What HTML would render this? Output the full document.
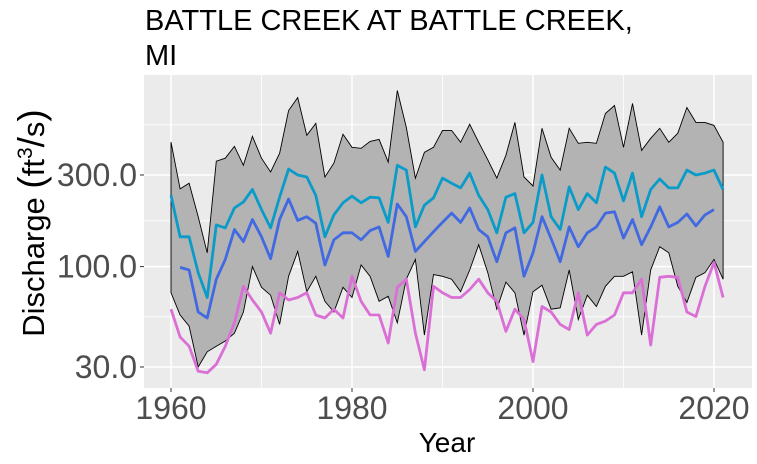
<!DOCTYPE html>
<html><head><meta charset="utf-8"><style>
body{margin:0;background:#fff;}
svg{display:block;font-family:"Liberation Sans",sans-serif;}
</style></head><body>
<svg id="chart" width="757" height="464">
<rect x="0" y="0" width="757" height="464" fill="#fff"/>
<text x="145" y="30" font-size="29" fill="#000">BATTLE CREEK AT BATTLE CREEK,</text>
<text x="145" y="65" font-size="29" fill="#000">MI</text>
<rect x="144" y="75" width="608" height="313" fill="#ebebeb"/>
<g id="grid"></g>
<g id="marks"></g>
<g id="axes"></g>
<text x="447" y="452" font-size="28" text-anchor="middle" fill="#000">Year</text>
<text transform="translate(44,223) rotate(-90)" font-size="31" text-anchor="middle" fill="#000">Discharge <tspan font-size="37">(</tspan>ft<tspan dy="-12" font-size="21">3</tspan><tspan dy="12" font-size="37">/</tspan>s<tspan font-size="37">)</tspan></text>
</svg>
<script>
const years = [];
for (let y = 1960; y <= 2021; y++) years.push(y);
const upper = [445,254,272,182,118,354,367,423,337,477,367,311,389,650,759,483,557,293,346,489,418,413,449,460,350,826,531,289,394,418,512,512,
444,551,444,360,289,380,564,293,263,525,371,318,525,439,444,439,627,690,418,707,403,466,525,444,495,674,564,564,544,444];
const lower = [73,56,49,30,36,38.5,41,45,58,100,78,71,50,89,120,74,89,66,58,78,69,102,89,66,70,51,86,109,44,91,89,86,
74,96,130,93,60,83,73,44,74,80,60,61,96,53,71,62,79,89,89,94,44,96,127,118,79,65,88,93,109,86];
const cyanSeries = [235,143,143,93,69,165,159,202,217,252,198,159,230,322,300,293,235,143,186,215,233,215,230,228,170,337,318,161,209,228,289,272,
257,307,235,198,150,230,240,150,170,300,182,156,260,198,240,215,330,307,220,307,182,252,286,257,257,318,300,307,318,252];
const blueYears = years.slice(1, 61);
const blueSeries = [99,96,58,54,86,109,156,135,176,143,110,176,225,174,182,168,102,138,150,150,138,154,161,113,212,182,120,135,152,170,190,
170,202,156,143,106,150,159,89,118,182,140,106,161,127,150,161,190,193,141,176,130,161,205,161,170,188,163,186,198];
const pinkSeries = [60,43,38.5,28.5,28,31,38.5,51,79,67,58,45,73,67,69,73,56,54,60,54,89,66,56,56,40,78,86,45,29,79,73,69,
69,76,86,73,66,46,60,53,32,62,58,50,47,73,44,50,52,56,73,73,86,39,88,89,88,58,55,79,105,69];
const yTicks = [30, 100, 300];
const yTickLabels = ["30.0", "100.0", "300.0"];
const yMinor = [10, Math.sqrt(30*100), Math.sqrt(100*300), Math.sqrt(300*1000)];
const xTicks = [1960, 1980, 2000, 2020];
const xMinor = [1950, 1970, 1990, 2010];

const NS = "http://www.w3.org/2000/svg";
const P = {l:144, r:752, t:75, b:388};
const xs = y => 171 + (y - 1960) * 9.05;
const ys = v => 175 - Math.log10(v / 300) * 192;
function mk(tag, attrs, parent) {
  const e = document.createElementNS(NS, tag);
  for (const k in attrs) e.setAttribute(k, attrs[k]);
  parent.appendChild(e);
  return e;
}
const grid = document.getElementById('grid');
const marks = document.getElementById('marks');
const axes = document.getElementById('axes');
yMinor.forEach(v => {
  const y = ys(v); if (y < P.t || y > P.b) return;
  const l = mk('line', {x1:P.l, x2:P.r, y1:y, y2:y, stroke:'#fff', 'stroke-width':0.8}, grid);
  
  
});
xMinor.forEach(v => {
  const x = xs(v); if (x < P.l || x > P.r) return;
  const l = mk('line', {x1:x, x2:x, y1:P.t, y2:P.b, stroke:'#fff', 'stroke-width':0.8}, grid);
  
  
});
yTicks.forEach((v, i) => {
  const y = ys(v);
  const l = mk('line', {x1:P.l, x2:P.r, y1:y, y2:y, stroke:'#fff', 'stroke-width':1.5}, grid);
  
  
  const t = mk('line', {x1:P.l-4, x2:P.l, y1:y, y2:y, stroke:'#333', 'stroke-width':1}, axes);
  
  
  const tx = mk('text', {x:P.l-7, y:y+11, 'font-size':32, 'text-anchor':'end', fill:'#4d4d4d'}, axes);
  tx.textContent = yTickLabels[i];
  
  
});
xTicks.forEach(v => {
  const x = xs(v);
  const l = mk('line', {x1:x, x2:x, y1:P.t, y2:P.b, stroke:'#fff', 'stroke-width':1.5}, grid);
  
  
  const t = mk('line', {x1:x, x2:x, y1:P.b, y2:P.b+4, stroke:'#333', 'stroke-width':1}, axes);
  
  
  const tx = mk('text', {x:x, y:419, 'font-size':32, 'text-anchor':'middle', fill:'#4d4d4d'}, axes);
  tx.textContent = v;
  
  
});
let d = years.map((y, i) => (i ? 'L' : 'M') + xs(y).toFixed(1) + ',' + ys(upper[i]).toFixed(1)).join('');
for (let i = years.length - 1; i >= 0; i--) d += 'L' + xs(years[i]).toFixed(1) + ',' + ys(lower[i]).toFixed(1);
d += 'Z';
const band = mk('path', {d:d, fill:'#b3b3b3', stroke:'#000', 'stroke-width':0.9, 'stroke-linejoin':'miter'}, marks);


function line(xv, vals, color, name) {
  const p = xv.map((y, i) => (i ? 'L' : 'M') + xs(y).toFixed(1) + ',' + ys(vals[i]).toFixed(1)).join('');
  const e = mk('path', {d:p, fill:'none', stroke:color, 'stroke-width':2.8, 'stroke-linejoin':'round'}, marks);
  
  
}
line(years, cyanSeries, '#0a9bc9', 'upper-quantile-line');
line(blueYears, blueSeries, '#4169e1', 'median-line');
line(years, pinkSeries, '#da70d6', 'low-flow-line');
</script>
</body></html>
